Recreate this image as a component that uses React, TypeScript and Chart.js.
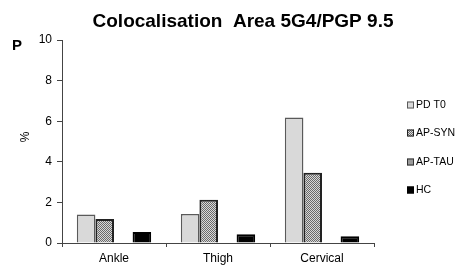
import React, { useEffect, useRef } from "react";
import { Chart, registerables } from "chart.js";

Chart.register(...registerables);

const categories = ["Ankle", "Thigh", "Cervical"];
const seriesLabels = ["PD T0", "AP-SYN", "AP-TAU", "HC"];
const pdT0 = [1.41, 1.43, 6.18];
const apSyn = [1.18, 2.13, 3.46];
const apTau: (number | null)[] = [null, null, null];
const hc = [0.54, 0.43, 0.33];
const yTicks = [0, 2, 4, 6, 8, 10];
const titleText = "Colocalisation  Area 5G4/PGP 9.5";
const panelLetter = "P";
const yTitle = "%";

const FONT = "'Liberation Sans', Arial, sans-serif";

function makePattern(): CanvasPattern | string {
  const c = document.createElement("canvas");
  c.width = 2;
  c.height = 2;
  const g = c.getContext("2d");
  if (!g) return "#999";
  g.fillStyle = "#d8d8d8";
  g.fillRect(0, 0, 2, 2);
  g.fillStyle = "#6a6a6a";
  g.fillRect(0, 0, 1, 1);
  g.fillRect(1, 1, 1, 1);
  return g.createPattern(c, "repeat") || "#999";
}

export default function App() {
  const ref = useRef<HTMLCanvasElement | null>(null);

  useEffect(() => {
    document.body.style.margin = "0";
    const canvas = ref.current;
    if (!canvas) return;
    const pattern = makePattern();
    const fills = ["#d9d9d9", pattern, "#9a9a9a", "#000000"];
    const borders = ["#5a5a5a", "#222222", "#333333", "#000000"];
    const values = [pdT0, apSyn, apTau, hc];

    const decor = {
      id: "decor",
      afterDraw(chart: any) {
        const ctx = chart.ctx as CanvasRenderingContext2D;
        ctx.save();
        // title
        ctx.fillStyle = "#000";
        ctx.font = `bold 19px ${FONT}`;
        ctx.textAlign = "center";
        ctx.textBaseline = "alphabetic";
        ctx.fillText(titleText, 243, 27);
        // panel letter
        ctx.font = `bold 15px ${FONT}`;
        ctx.textAlign = "left";
        ctx.fillText(panelLetter, 12, 50);
        // y title
        ctx.save();
        ctx.translate(26, 137);
        ctx.rotate(-Math.PI / 2);
        ctx.font = `12px ${FONT}`;
        ctx.textAlign = "center";
        ctx.textBaseline = "middle";
        ctx.fillText(yTitle, 0, 0);
        ctx.restore();
        // legend
        const ys = [105, 133, 162, 190];
        chart.data.datasets.forEach((ds: any, i: number) => {
          const y = ys[i];
          ctx.fillStyle = ds.backgroundColor;
          ctx.fillRect(407, y - 3.5, 7, 7);
          ctx.strokeStyle = ds.borderColor;
          ctx.lineWidth = 1;
          ctx.strokeRect(407.5, y - 3, 6, 6);
          ctx.fillStyle = "#000";
          ctx.font = `10.5px ${FONT}`;
          ctx.textAlign = "left";
          ctx.textBaseline = "middle";
          ctx.fillText(ds.label, 416, y + 0.5);
        });
        ctx.restore();
      },
    };

    const chart = new Chart(canvas, {
      type: "bar",
      data: {
        labels: categories,
        datasets: seriesLabels.map((label, i) => ({
          label,
          data: values[i] as any,
          backgroundColor: fills[i] as any,
          borderColor: borders[i],
          borderWidth: i === 0 ? 1.5 : 2,
          categoryPercentage: 0.715,
          barPercentage: 1,
        })),
      },
      options: {
        animation: false,
        responsive: false,
        maintainAspectRatio: false,
        devicePixelRatio: 1,
        layout: { padding: { top: 40, right: 84, left: 0, bottom: 0 } },
        plugins: {
          legend: { display: false },
          title: { display: false },
          tooltip: { enabled: false },
        },
        scales: {
          x: {
            offset: true,
            grid: {
              offset: true,
              drawOnChartArea: false,
              drawTicks: true,
              tickLength: 4,
              color: "#444",
            },
            border: { color: "#444", width: 1 },
            ticks: {
              color: "#000",
              font: { family: FONT, size: 12 },
              padding: 4,
            },
            afterFit: (s: any) => {
              s.height = 25;
            },
          },
          y: {
            min: 0,
            max: 10,
            afterBuildTicks: (s: any) => {
              s.ticks = yTicks.map((v) => ({ value: v }));
            },
            grid: {
              drawOnChartArea: false,
              drawTicks: true,
              tickLength: 5,
              color: "#444",
            },
            border: { color: "#444", width: 1 },
            ticks: {
              color: "#000",
              font: { family: FONT, size: 12 },
              padding: 5,
            },
            afterFit: (s: any) => {
              s.width = 62;
            },
          },
        },
      },
      plugins: [decor],
    });
    return () => chart.destroy();
  }, []);

  return (
    <div style={{ width: 458, height: 268, background: "#fff" }}>
      <canvas ref={ref} width={458} height={268} style={{ display: "block" }} />
    </div>
  );
}
